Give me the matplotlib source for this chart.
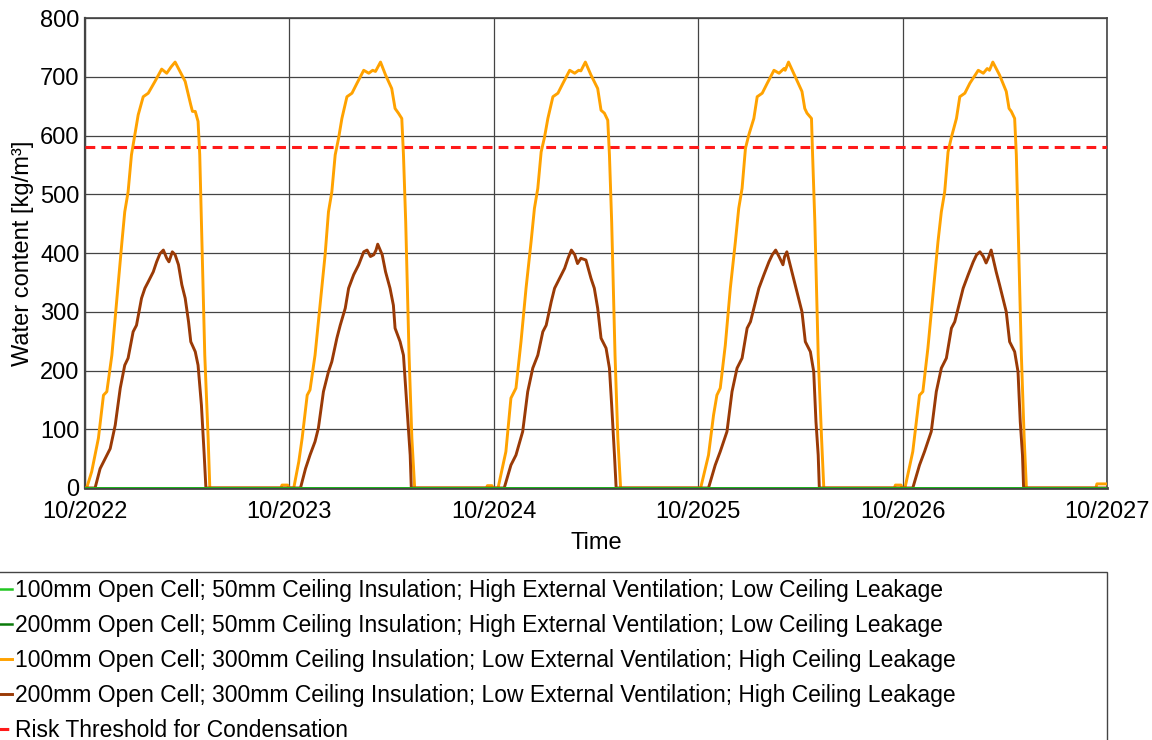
import numpy as np
import matplotlib
matplotlib.use("Agg")
import matplotlib.pyplot as plt
import matplotlib.dates as mdates
from matplotlib.patches import Rectangle

plt.rcParams['font.family'] = ['Liberation Sans', 'DejaVu Sans']

# ---------------- data (days since 1 October of each cycle year, values kg/m3) -------------
cycle_years = [2022, 2023, 2024, 2025, 2026]

orange_days_2022 = [0, 3, 12, 24, 33, 39, 48, 57, 66, 71, 77, 83, 89, 95, 104, 113, 125, 137, 146, 154, 161, 167, 179, 189, 192, 197, 202, 205, 208, 214, 220, 223, 350, 352, 362, 364]
orange_vals_2022 = [0, 0, 28, 85, 158, 164, 226, 323, 419, 470, 504, 567, 601, 635, 666, 672, 692, 713, 706, 717, 725, 714, 692, 652, 641, 641, 624, 567, 453, 226, 85, 0, 0, 5, 5, 0]

orange_days_2023 = [0, 8, 17, 23, 32, 37, 46, 55, 64, 70, 76, 82, 88, 94, 103, 112, 121, 133, 142, 149, 154, 163, 172, 183, 189, 195, 201, 204, 208, 214, 219, 224, 352, 354, 362, 364]
orange_vals_2023 = [0, 0, 45, 85, 158, 167, 226, 311, 397, 470, 504, 567, 595, 629, 666, 672, 689, 711, 706, 711, 709, 725, 703, 680, 646, 638, 629, 567, 453, 226, 85, 0, 0, 4, 4, 0]

orange_days_2024 = [0, 7, 21, 30, 39, 48, 57, 66, 72, 78, 84, 90, 96, 105, 114, 123, 135, 144, 151, 155, 163, 173, 185, 191, 197, 203, 206, 210, 216, 221, 226, 364]
orange_vals_2024 = [0, 0, 62, 153, 170, 249, 340, 419, 476, 510, 572, 597, 629, 666, 672, 689, 711, 706, 711, 710, 725, 703, 680, 643, 638, 626, 567, 453, 226, 85, 0, 0]

orange_days_2025 = [0, 4, 18, 27, 33, 39, 48, 57, 66, 72, 78, 84, 90, 99, 105, 114, 123, 135, 144, 153, 155, 161, 173, 185, 190, 194, 202, 204, 208, 214, 220, 224, 350, 352, 362, 364]
orange_vals_2025 = [0, 0, 56, 124, 158, 170, 243, 340, 419, 476, 510, 578, 601, 629, 666, 672, 689, 711, 706, 714, 711, 725, 700, 675, 646, 638, 629, 567, 453, 226, 85, 0, 0, 5, 5, 0]

orange_days_2026 = [0, 4, 18, 30, 36, 45, 54, 63, 69, 75, 81, 87, 96, 102, 111, 120, 135, 144, 151, 155, 161, 173, 185, 190, 194, 200, 203, 206, 212, 217, 221, 345, 347, 364]
orange_vals_2026 = [0, 0, 62, 158, 164, 238, 329, 419, 470, 504, 572, 597, 629, 666, 672, 689, 711, 706, 714, 711, 725, 703, 675, 646, 641, 629, 567, 453, 226, 85, 0, 0, 7, 7]

brown_days_2022 = [0, 18, 27, 36, 45, 54, 63, 71, 77, 86, 92, 101, 107, 113, 122, 128, 134, 140, 146, 150, 156, 161, 167, 173, 179, 185, 189, 197, 202, 208, 213, 216, 364]
brown_vals_2022 = [0, 0, 33, 50, 67, 107, 170, 209, 221, 266, 277, 323, 340, 351, 368, 385, 399, 405, 391, 385, 402, 397, 380, 346, 323, 283, 249, 232, 209, 141, 56, 0, 0]

brown_days_2023 = [0, 20, 29, 37, 46, 52, 61, 70, 76, 85, 91, 100, 106, 115, 124, 133, 139, 145, 151, 155, 158, 166, 172, 180, 186, 189, 198, 204, 210, 216, 218, 364]
brown_vals_2023 = [0, 0, 33, 56, 79, 102, 164, 198, 215, 255, 277, 306, 340, 363, 380, 402, 405, 394, 397, 405, 415, 397, 368, 340, 311, 272, 249, 226, 141, 56, 0, 0]

brown_days_2024 = [0, 18, 30, 39, 51, 60, 69, 78, 87, 93, 102, 108, 117, 126, 132, 138, 144, 149, 155, 164, 173, 179, 185, 191, 200, 206, 210, 215, 218, 364]
brown_vals_2024 = [0, 0, 39, 56, 96, 164, 204, 226, 266, 277, 317, 340, 357, 374, 391, 405, 397, 382, 391, 388, 357, 340, 306, 255, 238, 204, 141, 56, 0, 0]

brown_days_2025 = [0, 18, 30, 39, 51, 60, 69, 78, 87, 93, 102, 108, 117, 126, 132, 138, 144, 151, 154, 158, 167, 173, 185, 191, 200, 206, 210, 214, 216, 364]
brown_vals_2025 = [0, 0, 39, 62, 96, 164, 204, 221, 272, 283, 317, 340, 363, 385, 397, 405, 394, 380, 394, 402, 368, 346, 300, 249, 232, 198, 113, 56, 0, 0]

brown_days_2026 = [0, 18, 30, 39, 51, 60, 69, 78, 87, 93, 102, 108, 117, 126, 132, 138, 144, 149, 154, 158, 167, 173, 185, 191, 200, 206, 210, 214, 216, 364]
brown_vals_2026 = [0, 0, 39, 62, 96, 164, 204, 221, 272, 283, 317, 340, 363, 385, 397, 402, 394, 383, 394, 405, 368, 346, 300, 249, 232, 198, 113, 56, 0, 0]

green_light_dates = ['2022-10-01', '2027-10-01']
green_light_vals = [0, 0]
green_dark_dates = ['2022-10-01', '2027-10-01']
green_dark_vals = [0, 0]

threshold_value = 580

labels = [
    "100mm Open Cell; 50mm Ceiling Insulation; High External Ventilation; Low Ceiling Leakage",
    "200mm Open Cell; 50mm Ceiling Insulation; High External Ventilation; Low Ceiling Leakage",
    "100mm Open Cell; 300mm Ceiling Insulation; Low External Ventilation; High Ceiling Leakage",
    "200mm Open Cell; 300mm Ceiling Insulation; Low External Ventilation; High Ceiling Leakage",
    "Risk Threshold for Condensation",
]
x_tick_dates = ['2022-10-01', '2023-10-01', '2024-10-01', '2025-10-01', '2026-10-01', '2027-10-01']
y_ticks = [0, 100, 200, 300, 400, 500, 600, 700, 800]

orange_days = [orange_days_2022, orange_days_2023, orange_days_2024, orange_days_2025, orange_days_2026]
orange_vals = [orange_vals_2022, orange_vals_2023, orange_vals_2024, orange_vals_2025, orange_vals_2026]
brown_days = [brown_days_2022, brown_days_2023, brown_days_2024, brown_days_2025, brown_days_2026]
brown_vals = [brown_vals_2022, brown_vals_2023, brown_vals_2024, brown_vals_2025, brown_vals_2026]


def build(days_list, vals_list):
    t, v = [], []
    for yr, d, val in zip(cycle_years, days_list, vals_list):
        start = np.datetime64(f'{yr}-10-01')
        t.extend(start + np.array(d, dtype='timedelta64[D]'))
        v.extend(val)
    return np.array(t, dtype='datetime64[D]'), np.array(v, dtype=float)


o_t, o_v = build(orange_days, orange_vals)
b_t, b_v = build(brown_days, brown_vals)

# ---------------- figure ----------------
fig = plt.figure(figsize=(11.52, 7.40), dpi=100)
ax = fig.add_axes([85 / 1152, 1 - 488 / 740, (1107 - 85) / 1152, (488 - 18) / 740])

C_LG = '#22c622'
C_DG = '#0a7a0a'
C_OR = '#ffa200'
C_BR = '#9a3a06'
C_RD = '#ff1a1a'

h1, = ax.plot(np.array(green_light_dates, dtype='datetime64[D]'), green_light_vals,
              color=C_LG, lw=1.8, zorder=6)
h2, = ax.plot(np.array(green_dark_dates, dtype='datetime64[D]'), green_dark_vals,
              color=C_DG, lw=1.8, zorder=5)
h3, = ax.plot(o_t, o_v, color=C_OR, lw=2.1, zorder=4)
h4, = ax.plot(b_t, b_v, color=C_BR, lw=2.1, zorder=4)
h5 = ax.axhline(threshold_value, color=C_RD, lw=2.2, dashes=(3.2, 2.0), zorder=3)

ax.set_xlim(np.datetime64('2022-10-01'), np.datetime64('2027-10-01'))
ax.set_ylim(0, 800)
ax.set_xticks(np.array(x_tick_dates, dtype='datetime64[D]'))
ax.xaxis.set_major_formatter(mdates.DateFormatter('%m/%Y'))
ax.set_yticks(y_ticks)
ax.grid(True, color='#444444', lw=0.9, zorder=1)
ax.set_axisbelow(True)
ax.tick_params(axis='both', length=0, labelsize=17)
ax.tick_params(axis='x', pad=9)
ax.tick_params(axis='y', pad=4)
for s in ax.spines.values():
    s.set_color('#444444')
    s.set_linewidth(1.2)
ax.spines['left'].set_linewidth(1.6)
ax.spines['bottom'].set_linewidth(2.0)

ax.set_xlabel('Time', fontsize=17)
ax.set_ylabel('Water content [kg/m³]', fontsize=17)
ax.xaxis.set_label_coords(0.5, -0.093)
ax.yaxis.set_label_coords(-0.050, 0.5)

# legend frame (extends beyond figure edges as in reference)
fig.patches.append(Rectangle((-0.02, -0.2), 1107 / 1152 + 0.02, 0.2 + (740 - 572) / 740,
                             transform=fig.transFigure, fill=False,
                             edgecolor='#444444', lw=1.0))
leg = fig.legend([h1, h2, h3, h4, h5], labels, loc='upper left',
                 bbox_to_anchor=(-4 / 1152, 1 - 579 / 740), frameon=False,
                 fontsize=16.5, handlelength=0.7, handletextpad=0.12,
                 borderpad=0, borderaxespad=0, labelspacing=0.52)

fig.savefig('out.png', dpi=100)
